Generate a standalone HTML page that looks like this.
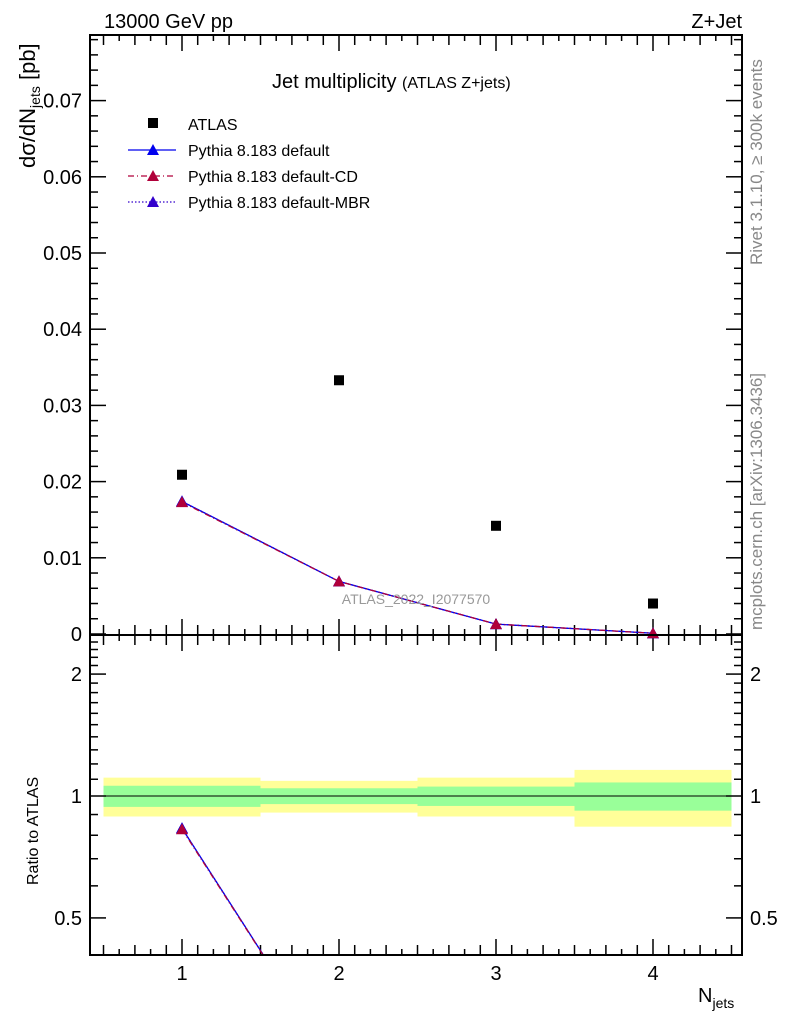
<!DOCTYPE html>
<html><head><meta charset="utf-8"><style>
html,body{margin:0;background:#fff;overflow:hidden;width:786px;height:1024px;}
svg{display:block;font-family:"Liberation Sans",sans-serif;}
</style></head><body>
<svg id="chart" width="786" height="1024" xmlns="http://www.w3.org/2000/svg">
<g id="bands"></g>
<g id="ticks"></g>
<g id="series"></g>
<rect x="90" y="35" width="652" height="600" fill="none" stroke="#000" stroke-width="2"/>
<rect x="90" y="635" width="652" height="320" fill="none" stroke="#000" stroke-width="2"/>
<text x="104" y="28" font-size="20">13000 GeV pp</text>
<text x="742" y="28" font-size="20" text-anchor="end">Z+Jet</text>
<text x="272" y="88" font-size="20">Jet multiplicity <tspan font-size="16">(ATLAS Z+jets)</tspan></text>
<text transform="translate(35,168) rotate(-90)" font-size="22">dσ/dN<tspan font-size="14" dy="5">jets</tspan><tspan dy="-5"> [pb]</tspan></text>
<text transform="translate(38,885) rotate(-90)" font-size="16">Ratio to ATLAS</text>
<text x="698" y="1002" font-size="20">N<tspan font-size="14" dy="6">jets</tspan></text>
<text transform="translate(762,265) rotate(-90)" font-size="17" fill="#888">Rivet 3.1.10, ≥ 300k events</text>
<text transform="translate(762,630) rotate(-90)" font-size="17" fill="#888">mcplots.cern.ch [arXiv:1306.3436]</text>
<text x="416" y="604" font-size="14" fill="#999" text-anchor="middle">ATLAS_2022_I2077570</text>
<g font-size="16">
<rect x="148" y="118" width="10" height="10" fill="#000"/>
<text x="188" y="130">ATLAS</text>
<line x1="128" y1="150" x2="176" y2="150" stroke="#0000ee" stroke-width="1.3"/>
<path d="M147,155 L153,144 L159,155 Z" fill="#0000ee"/>
<text x="188" y="156">Pythia 8.183 default</text>
<line x1="128" y1="176" x2="176" y2="176" stroke="#b0003a" stroke-width="1.3" stroke-dasharray="6,3,1,3"/>
<path d="M147,181 L153,170 L159,181 Z" fill="#b0003a"/>
<text x="188" y="182">Pythia 8.183 default-CD</text>
<line x1="128" y1="202" x2="176" y2="202" stroke="#3300cc" stroke-width="1.3" stroke-dasharray="1.5,2"/>
<path d="M147,207 L153,196 L159,207 Z" fill="#3300cc"/>
<text x="188" y="208">Pythia 8.183 default-MBR</text>
</g>
</svg>
<script>
const categories=[1,2,3,4];
const atlasValues=[0.0209,0.0333,0.0142,0.0040];
const pythiaDefault=[0.0174,0.0069,0.0013,0.0001];
const pythiaCD=[0.0173,0.0069,0.0013,0.0001];
const pythiaMBR=[0.0174,0.0069,0.0013,0.0001];
const yellowErr=[0.11,0.09,0.11,0.16];
const greenErr=[0.06,0.045,0.055,0.08];
const mainTicks=[0,0.01,0.02,0.03,0.04,0.05,0.06,0.07];
const ratioTickLabels=[0.5,1,2];
const NS="http://www.w3.org/2000/svg";
const xs=v=>182+(v-1)*157;
const ym=v=>634-v*7620;
const yr=v=>796-Math.log10(v)*405;
function mk(parent,tag,attrs){const e=document.createElementNS(NS,tag);for(const k in attrs)e.setAttribute(k,attrs[k]);document.getElementById(parent).appendChild(e);return e;}
categories.forEach((c,i)=>{
 const x0=xs(c-0.5),x1=xs(c+0.5);
 let e=mk('bands','rect',{x:x0,y:yr(1+yellowErr[i]),width:x1-x0,height:yr(1-yellowErr[i])-yr(1+yellowErr[i]),fill:'#ffff99'});
 
 
 e=mk('bands','rect',{x:x0,y:yr(1+greenErr[i]),width:x1-x0,height:yr(1-greenErr[i])-yr(1+greenErr[i]),fill:'#99ff99'});
 
 
});
let ref=mk('bands','line',{x1:90,x2:742,y1:yr(1),y2:yr(1),stroke:'#000','stroke-width':1});


for(let k=0;k<=40;k++){
 const v=0.5+k*0.1; const x=xs(v); if(x<91||x>741)continue;
 const maj=Math.abs(v-Math.round(v))<1e-6; const len=maj?16:(k%2?6:10);
 [[635,-1],[635,1],[35,1],[955,-1]].forEach(([y,d])=>mk('ticks','line',{x1:x,x2:x,y1:y,y2:y+d*len,stroke:'#000','stroke-width':1.5}));
 if(maj){const t=mk('ticks','text',{x:x,y:980,'font-size':20,'text-anchor':'middle'});t.textContent=Math.round(v);
 
 }
}
for(let k=0;k<=39;k++){
 const v=k*0.002,y=ym(v); if(y<36)continue;
 const maj=k%5==0,len=maj?16:8;
 mk('ticks','line',{x1:90,x2:90+len,y1:y,y2:y,stroke:'#000','stroke-width':1.5});
 mk('ticks','line',{x1:742,x2:742-len,y1:y,y2:y,stroke:'#000','stroke-width':1.5});
}
mainTicks.forEach(v=>{const t=mk('ticks','text',{x:82,y:ym(v)+7,'font-size':20,'text-anchor':'end'});t.textContent=v===0?'0':v.toFixed(2);

});
for(let v=0.4;v<=2.51;v+=0.1){
 const y=yr(v); if(y>954||y<636)continue;
 const maj=[0.5,1,2].some(m=>Math.abs(m-v)<1e-6),len=maj?16:8;
 mk('ticks','line',{x1:90,x2:90+len,y1:y,y2:y,stroke:'#000','stroke-width':1.5});
 mk('ticks','line',{x1:742,x2:742-len,y1:y,y2:y,stroke:'#000','stroke-width':1.5});
}
ratioTickLabels.forEach(v=>{[[82,'end'],[750,'start']].forEach(([x,a])=>{const t=mk('ticks','text',{x:x,y:yr(v)+7,'font-size':20,'text-anchor':a});t.textContent=String(v);

});});
const defs=mk('series','defs',{});
const cp=document.createElementNS(NS,'clipPath');cp.setAttribute('id','rc');defs.appendChild(cp);
const cr=document.createElementNS(NS,'rect');cr.setAttribute('x',90);cr.setAttribute('y',635);cr.setAttribute('width',652);cr.setAttribute('height',320);cp.appendChild(cr);
const styles=[[pythiaMBR,'#3300cc','1.5,2','mc-mbr'],[pythiaDefault,'#0000ee','none','mc-default'],[pythiaCD,'#b0003a','6,3,1,3','mc-cd']];
styles.forEach(([vals,col,dash,name])=>{
 let l=mk('series','polyline',{points:categories.map((c,i)=>xs(c)+','+ym(vals[i])).join(' '),fill:'none',stroke:col,'stroke-width':1.3,'stroke-dasharray':dash});
 
 
 const g=mk('series','g',{'clip-path':'url(#rc)'});
 const pl=document.createElementNS(NS,'polyline');
 pl.setAttribute('points',categories.map((c,i)=>xs(c)+','+yr(vals[i]/atlasValues[i])).join(' '));
 pl.setAttribute('fill','none');pl.setAttribute('stroke',col);pl.setAttribute('stroke-width',1.3);pl.setAttribute('stroke-dasharray',dash);
 
 
 g.appendChild(pl);
});
styles.forEach(([vals,col,dash,name])=>{
 categories.forEach((c,i)=>{
  const x=xs(c);let y=ym(vals[i]);
  let m=mk('series','path',{d:`M${x-6},${y+5} L${x},${y-6} L${x+6},${y+5} Z`,fill:col});
  
  
  const r=vals[i]/atlasValues[i];y=yr(r);
  if(y<955&&y>635){m=mk('series','path',{d:`M${x-6},${y+5} L${x},${y-6} L${x+6},${y+5} Z`,fill:col});
  
  }
 });
});
categories.forEach((c,i)=>{
 const m=mk('series','rect',{x:xs(c)-5,y:ym(atlasValues[i])-5,width:10,height:10,fill:'#000'});
 
 
});
</script>
</body></html>
